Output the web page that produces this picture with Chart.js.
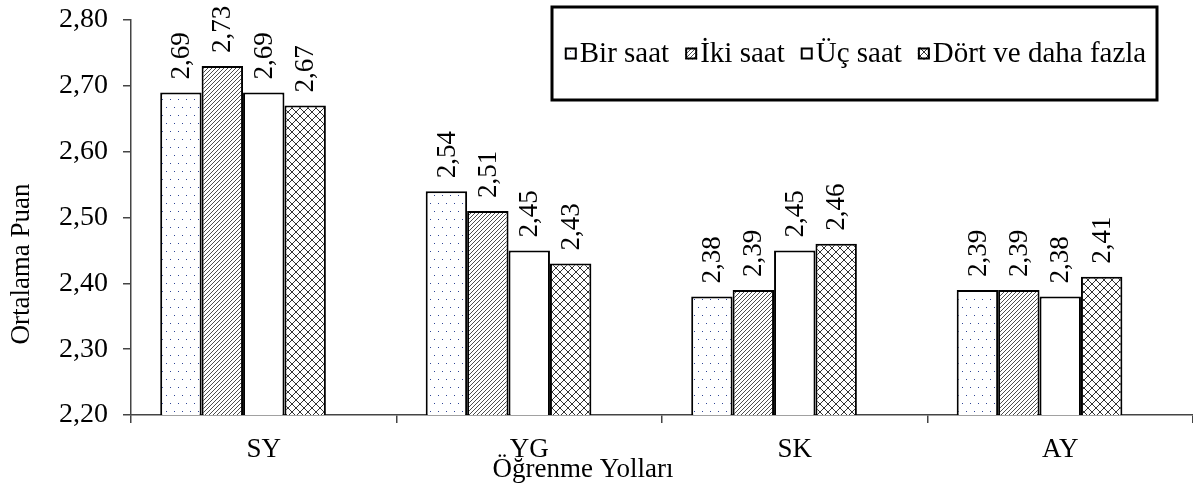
<!DOCTYPE html>
<html>
<head>
<meta charset="utf-8">
<script src="https://cdn.jsdelivr.net/npm/chart.js@4/dist/chart.umd.min.js"></script>
<style>
  html, body { margin: 0; padding: 0; background: #fff; }
  #wrap { width: 1193px; height: 484px; position: relative; overflow: hidden; }
</style>
</head>
<body>
<div id="wrap"><canvas id="chart"></canvas></div>
<script>
// Öğrenme yollarına göre ortalama puanlar (günlük çalışma süresi grupları)
const categories = ['SY', 'YG', 'SK', 'AY'];
const seriesNames = ['Bir saat', 'İki saat', 'Üç saat', 'Dört ve daha fazla'];
const birSaat = [2.69, 2.54, 2.38, 2.39];
const ikiSaat = [2.73, 2.51, 2.39, 2.39];
const ucSaat = [2.69, 2.45, 2.45, 2.38];
const dortVeDahaFazla = [2.67, 2.43, 2.46, 2.41];
const yTickValues = [2.20, 2.30, 2.40, 2.50, 2.60, 2.70, 2.80];
const yAxisTitle = 'Ortalama Puan';
const xAxisTitle = 'Öğrenme Yolları';

const SERIF = "'Liberation Serif', 'Times New Roman', serif";
const fmt = v => v.toFixed(2).replace('.', ',');

// ---- fill patterns ----
function makeTile(w, h, draw) {
  const c = document.createElement('canvas');
  c.width = w; c.height = h;
  const g = c.getContext('2d');
  g.fillStyle = '#fff';
  g.fillRect(0, 0, w, h);
  draw(g, w, h);
  return document.createElement('canvas').getContext('2d').createPattern(c, 'repeat');
}
const dotPattern = makeTile(8, 16, (g) => {
  g.fillStyle = '#2f4596';
  g.fillRect(2, 3, 1, 1);
  g.fillRect(6, 11, 1, 1);
});
const hatchPattern = makeTile(4, 4, (g, w, h) => {
  g.strokeStyle = '#3a3a3a';
  g.lineWidth = 0.9;
  g.beginPath();
  g.moveTo(-1, h + 1); g.lineTo(w + 1, -1);
  g.moveTo(-1 - w, h + 1); g.lineTo(1, -1);
  g.moveTo(w - 1, h + 1); g.lineTo(2 * w + 1, -1);
  g.stroke();
});
const crossPattern = makeTile(8, 8, (g, w, h) => {
  g.strokeStyle = '#333';
  g.lineWidth = 1;
  g.beginPath();
  g.moveTo(0, h); g.lineTo(w, 0);
  g.moveTo(0, 0); g.lineTo(w, h);
  g.moveTo(-w / 2, h / 2); g.lineTo(w / 2, -h / 2);
  g.moveTo(w / 2, h * 1.5); g.lineTo(w * 1.5, h / 2);
  g.stroke();
});
const fills = [dotPattern, hatchPattern, '#ffffff', crossPattern];
const seriesData = [birSaat, ikiSaat, ucSaat, dortVeDahaFazla];

const datasets = seriesNames.map((name, i) => ({
  label: name,
  data: seriesData[i],
  backgroundColor: fills[i],
  borderColor: '#000',
  borderWidth: 2,
  borderSkipped: false,
  showValues: true
}));
// empty fifth slot keeps each group of four bars left of the category centre
datasets.push({ label: '', data: categories.map(() => null), backgroundColor: 'rgba(0,0,0,0)', borderWidth: 0 });

// ---- value labels written vertically above each bar ----
const barValueLabels = {
  id: 'barValueLabels',
  afterDatasetsDraw(chart) {
    const ctx = chart.ctx;
    ctx.save();
    ctx.font = '27px ' + SERIF;
    ctx.fillStyle = '#000';
    ctx.textAlign = 'left';
    ctx.textBaseline = 'middle';
    chart.data.datasets.forEach((ds, i) => {
      if (!ds.showValues) return;
      chart.getDatasetMeta(i).data.forEach((bar, j) => {
        const v = ds.data[j];
        if (v == null) return;
        ctx.save();
        ctx.translate(bar.x + 1, bar.y - 13);
        ctx.rotate(-Math.PI / 2);
        ctx.fillText(fmt(v), 0, 0);
        ctx.restore();
      });
    });
    ctx.restore();
  }
};

// ---- axis captions ----
const axisCaptions = {
  id: 'axisCaptions',
  afterDraw(chart) {
    const ctx = chart.ctx;
    ctx.save();
    ctx.fillStyle = '#000';
    ctx.font = '27px ' + SERIF;
    ctx.textAlign = 'center';
    ctx.textBaseline = 'middle';
    ctx.translate(22, 264);
    ctx.rotate(-Math.PI / 2);
    ctx.fillText(yAxisTitle, 0, 0);
    ctx.restore();

    ctx.save();
    ctx.fillStyle = '#000';
    ctx.font = '27px ' + SERIF;
    ctx.textAlign = 'center';
    ctx.textBaseline = 'alphabetic';
    ctx.fillText(xAxisTitle, 583, 477);
    ctx.restore();
  }
};

// ---- framed legend placed inside the plot area ----
const boxedLegend = {
  id: 'boxedLegend',
  afterDraw(chart) {
    const ctx = chart.ctx;
    const box = { x: 552, y: 7, w: 605, h: 93 };
    ctx.save();
    ctx.fillStyle = '#fff';
    ctx.fillRect(box.x, box.y, box.w, box.h);
    ctx.lineWidth = 3;
    ctx.strokeStyle = '#000';
    ctx.strokeRect(box.x, box.y, box.w, box.h);

    ctx.font = '29px ' + SERIF;
    const marker = 12, markerGap = 3, itemGap = 16;
    const items = chart.data.datasets.filter(d => d.showValues);
    const widths = items.map(d => ctx.measureText(d.label).width);
    const total = widths.reduce((a, b) => a + b, 0) + items.length * (marker + markerGap) + (items.length - 1) * itemGap;
    let x = box.x + (box.w - total) / 2 + 1;
    const cy = box.y + box.h / 2;
    ctx.textBaseline = 'middle';
    ctx.textAlign = 'left';
    items.forEach((d, i) => {
      ctx.fillStyle = d.backgroundColor;
      ctx.fillRect(x, cy - marker / 2, marker, marker);
      ctx.lineWidth = 2;
      ctx.strokeStyle = '#000';
      ctx.strokeRect(x + 1, cy - marker / 2 + 1, marker - 2, marker - 2);
      x += marker + markerGap;
      ctx.fillStyle = '#000';
      ctx.fillText(d.label, x, cy + 1);
      x += widths[i] + itemGap;
    });
    ctx.restore();
  }
};

new Chart(document.getElementById('chart'), {
  type: 'bar',
  data: { labels: categories, datasets },
  options: {
    responsive: true,
    maintainAspectRatio: false,
    animation: false,
    events: [],
    layout: { padding: { top: 20, right: 0, left: 0, bottom: 0 } },
    datasets: { bar: { categoryPercentage: 0.78, barPercentage: 1.0 } },
    plugins: { legend: { display: false }, tooltip: { enabled: false }, title: { display: false } },
    scales: {
      x: {
        afterFit: s => { s.height = 69; s.paddingLeft = 0; s.paddingRight = 0; },
        grid: { display: true, drawOnChartArea: false, drawTicks: true, tickLength: 8, color: '#444', lineWidth: 1.5, offset: true },
        border: { display: true, color: '#444', width: 1.5 },
        ticks: { color: '#000', font: { family: SERIF, size: 27 }, padding: 11 }
      },
      y: {
        min: 2.2,
        max: 2.8,
        afterFit: s => { s.width = 131; s.paddingTop = 0; s.paddingBottom = 0; },
        afterBuildTicks: s => { s.ticks = yTickValues.map(v => ({ value: v })); },
        grid: { display: true, drawOnChartArea: false, drawTicks: true, tickLength: 8, color: '#444', lineWidth: 1.5 },
        border: { display: true, color: '#444', width: 1.5 },
        ticks: { color: '#000', font: { family: SERIF, size: 28 }, padding: 15, callback: v => fmt(v) }
      }
    }
  },
  plugins: [barValueLabels, boxedLegend, axisCaptions]
});
</script>
</body>
</html>
